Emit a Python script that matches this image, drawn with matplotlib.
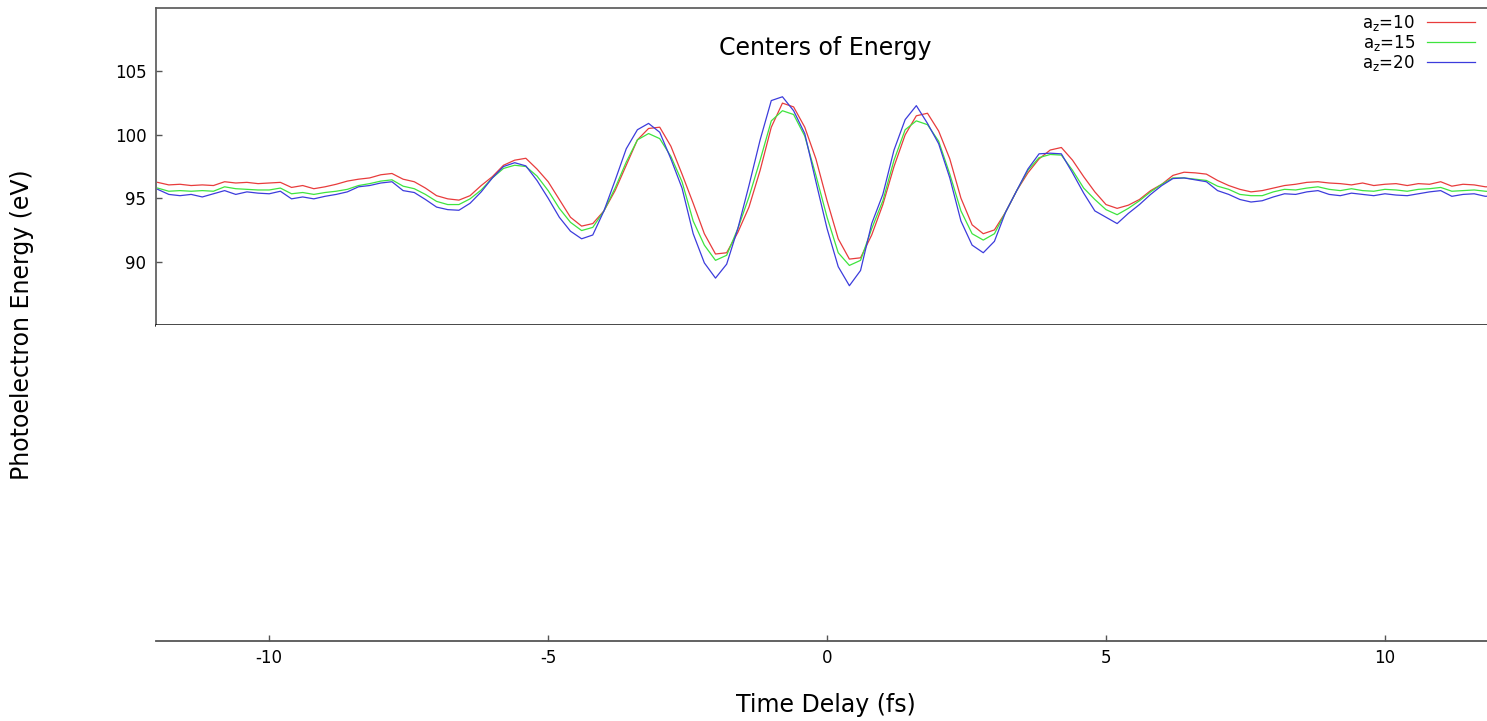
import numpy as np
import matplotlib
matplotlib.use('Agg')
import matplotlib.pyplot as plt

plt.rcParams['font.family'] = 'DejaVu Sans'
plt.rcParams['mathtext.default'] = 'regular'
plt.rcParams['axes.unicode_minus'] = False

# time delay grid (fs), 0.2 fs step
t = np.round(np.arange(-12.0, 12.0001, 0.2), 2)

e_az10 = [96.25, 96.05, 96.1, 96.0, 96.05, 96.0, 96.3, 96.2, 96.25, 96.15,
          96.2, 96.25, 95.85, 96.0, 95.75, 95.9, 96.1, 96.35, 96.5, 96.6,
          96.85, 96.95, 96.5, 96.3, 95.8, 95.2, 94.95, 94.85, 95.2, 96.0,
          96.7, 97.6, 98.0, 98.15, 97.3, 96.3, 94.9, 93.5, 92.8, 93.0,
          94.0, 95.6, 97.6, 99.6, 100.5, 100.6, 99.1, 96.9, 94.6, 92.2,
          90.6, 90.7, 92.3, 94.3, 97.2, 100.6, 102.5, 102.2, 100.6, 98.1,
          94.8, 91.8, 90.2, 90.3, 92.1, 94.5, 97.5, 100.0, 101.5, 101.7,
          100.3, 98.1, 95.0, 92.9, 92.2, 92.5, 93.9, 95.6, 97.0, 98.1,
          98.8, 99.0, 98.0, 96.7, 95.5, 94.5, 94.2, 94.45, 94.9, 95.6,
          96.1, 96.8, 97.05, 97.0, 96.9, 96.4, 96.0, 95.7, 95.5, 95.6,
          95.8, 96.0, 96.1, 96.25, 96.3, 96.2, 96.15, 96.05, 96.2, 96.0,
          96.1, 96.15, 96.0, 96.15, 96.1, 96.3, 95.95, 96.1, 96.05, 95.9,
          95.9]

e_az15 = [95.8, 95.55, 95.6, 95.55, 95.6, 95.55, 95.9, 95.75, 95.7, 95.65,
          95.65, 95.8, 95.35, 95.45, 95.3, 95.45, 95.55, 95.7, 96.0, 96.15,
          96.35, 96.45, 95.95, 95.75, 95.3, 94.75, 94.5, 94.5, 94.95, 95.65,
          96.6, 97.35, 97.6, 97.5, 96.75, 95.6, 94.2, 93.1, 92.45, 92.7,
          94.0, 95.8, 97.85, 99.6, 100.1, 99.7, 98.3, 96.3, 93.2, 91.3,
          90.1, 90.5, 92.6, 95.1, 98.0, 101.1, 101.9, 101.6, 99.9, 96.8,
          93.5, 90.7, 89.7, 90.1, 92.6, 94.8, 98.0, 100.4, 101.1, 100.8,
          99.5, 96.9, 94.0, 92.2, 91.7, 92.2, 93.9, 95.6, 97.2, 98.2,
          98.45, 98.4, 97.2, 95.8, 94.9, 94.1, 93.7, 94.2, 94.8, 95.5,
          96.1, 96.6, 96.6, 96.5, 96.4, 95.95, 95.7, 95.3, 95.2, 95.2,
          95.5, 95.7, 95.65, 95.8, 95.9, 95.7, 95.6, 95.75, 95.6, 95.55,
          95.7, 95.65, 95.55, 95.7, 95.75, 95.85, 95.55, 95.6, 95.65, 95.55,
          95.5]

e_az20 = [95.7, 95.3, 95.2, 95.3, 95.1, 95.35, 95.6, 95.3, 95.5, 95.4,
          95.35, 95.55, 94.95, 95.1, 94.95, 95.15, 95.3, 95.5, 95.9, 96.0,
          96.2, 96.3, 95.6, 95.45, 94.9, 94.3, 94.1, 94.05, 94.6, 95.5,
          96.6, 97.5, 97.8, 97.55, 96.4, 95.0, 93.5, 92.4, 91.8, 92.1,
          94.0, 96.4, 98.9, 100.4, 100.9, 100.2, 98.1, 95.8, 92.2, 89.9,
          88.7, 89.8, 92.6, 96.0, 99.6, 102.7, 103.0, 101.9, 100.1, 96.3,
          92.6, 89.6, 88.1, 89.3, 93.0, 95.3, 98.8, 101.2, 102.3, 100.9,
          99.3, 96.6, 93.2, 91.3, 90.7, 91.6, 93.9, 95.6, 97.3, 98.5,
          98.55, 98.5, 97.0, 95.4, 94.0, 93.5, 93.0, 93.8, 94.5, 95.3,
          96.0, 96.55, 96.6, 96.45, 96.3, 95.6, 95.3, 94.9, 94.7, 94.8,
          95.1, 95.35, 95.3, 95.5, 95.6, 95.3, 95.2, 95.4, 95.3, 95.2,
          95.35, 95.25, 95.2, 95.35, 95.5, 95.6, 95.15, 95.3, 95.35, 95.15,
          95.2]

labels = ['a$_z$=10', 'a$_z$=15', 'a$_z$=20']
colors = ['#e83c3c', '#3ee43e', '#3c3cdc']

fig = plt.figure(figsize=(14.87, 7.21), dpi=100)
ax = fig.add_axes([0.1049, 0.5492, 0.8951, 0.4397])
ax2 = fig.add_axes([0.1049, 0.111, 0.8951, 0.4382], sharex=ax)

for y, lab, c in zip([e_az10, e_az15, e_az20], labels, colors):
    ax.plot(t, y, color=c, lw=0.9, label=lab)

ax.set_xlim(-12.03, 11.83)
ax.set_ylim(85, 110)
ax.set_yticks([90, 95, 100, 105])
ax.tick_params(axis='y', direction='in', length=4, width=1, color='#555555',
               labelsize=12, pad=7)
ax.tick_params(axis='x', bottom=False, labelbottom=False)
ax.spines['right'].set_visible(False)
for s in ['top', 'left']:
    ax.spines[s].set_color('#555555')
    ax.spines[s].set_linewidth(1.2)
ax.spines['bottom'].set_color('#111111')
ax.spines['bottom'].set_linewidth(1.8)

ax.legend(loc='upper right', bbox_to_anchor=(1.0, 0.998), bbox_transform=fig.transFigure,
          frameon=False, markerfirst=False, fontsize=12, handlelength=2.9,
          labelspacing=0.0, handletextpad=0.7, borderpad=0.2)

for s in ['top', 'left', 'right']:
    ax2.spines[s].set_visible(False)
ax2.spines['bottom'].set_color('#555555')
ax2.spines['bottom'].set_linewidth(1.3)
ax2.set_yticks([])
ax2.set_xticks([-10, -5, 0, 5, 10])
ax2.tick_params(axis='x', direction='in', length=4, width=1, color='#555555',
                labelsize=12, pad=6)

fig.text(0.5548, 0.933, 'Centers of Energy', ha='center', va='center', fontsize=17)
fig.text(0.5555, 0.022, 'Time Delay (fs)', ha='center', va='center', fontsize=17)
fig.text(0.0148, 0.55, 'Photoelectron Energy (eV)', ha='center', va='center',
         rotation=90, fontsize=17)

fig.savefig('out.png', dpi=100)
